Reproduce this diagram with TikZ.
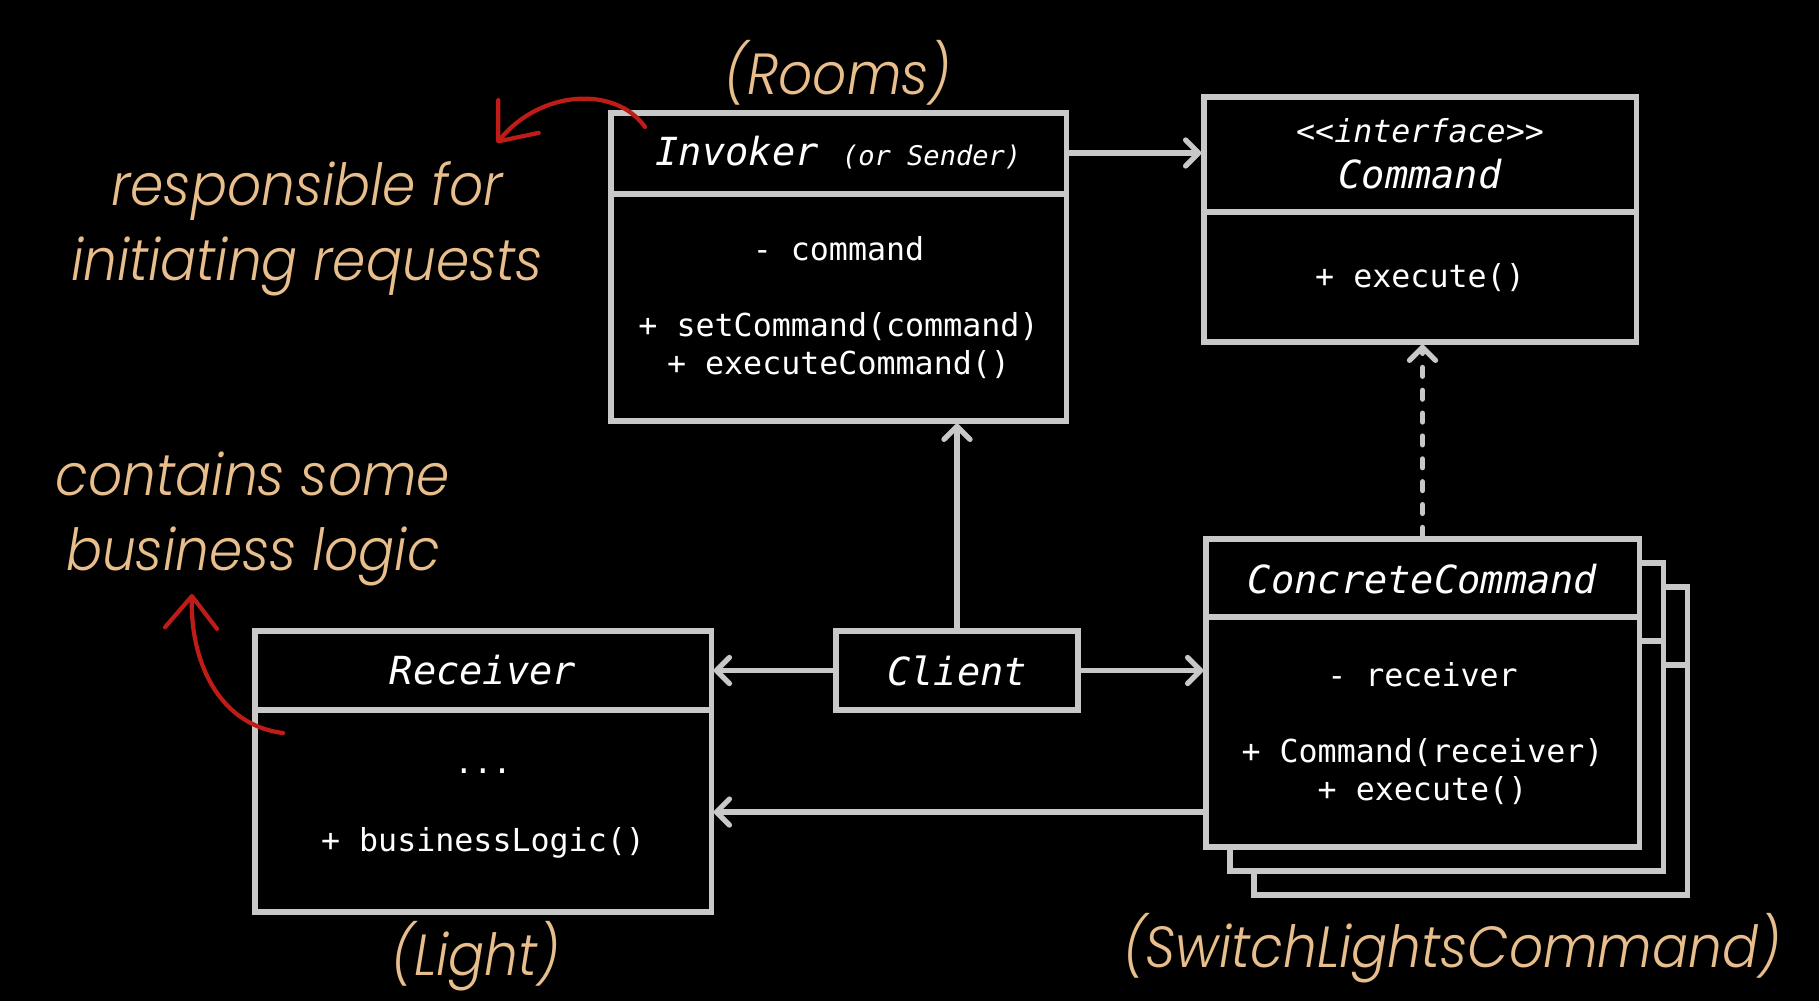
\documentclass[tikz,border=0pt]{standalone}
\usepackage{fontspec}
\setmonofont{DejaVu Sans Mono}
\newfontfamily\notefont{Poppins Light Italic}[FakeStretch=0.92]
\usetikzlibrary{arrows.meta}
\definecolor{linegray}{RGB}{200,200,200}
\definecolor{notetan}{RGB}{232,190,140}
\definecolor{markred}{RGB}{190,28,22}
\tikzset{
  classbox/.style={
    draw=linegray,
    line width=1.5pt,
    fill=black,
    inner sep=0pt
  },
  divider/.style={draw=linegray, line width=1.5pt},
  classtitle/.style={text=white, font=\ttfamily\itshape\fontsize{11}{13}\selectfont},
  classtext/.style={text=white, align=center, font=\ttfamily\fontsize{9}{10.8}\selectfont},
  notetext/.style={text=notetan, align=center, font=\notefont\fontsize{16.5}{21.3}\selectfont},
  umlarrow/.style={draw=linegray, line width=1.5pt, -{Straight Barb[length=1.3mm,width=2.6mm,round]}},
  realizearrow/.style={umlarrow, dash pattern=on 2.5pt off 4pt, line cap=round},
  remarkarrow/.style={draw=markred, line width=1.2pt, line cap=round, -{Straight Barb[length=3.2mm,width=5.2mm,round]}}
}

\begin{document}
\begin{tikzpicture}[x=0.01cm, y=-0.01cm]
\fill[black] (0,0) rectangle (1819,1001);
\useasboundingbox (0,0) rectangle (1819,1001);

% invoker
\node[classbox, minimum width=4.55cm, minimum height=3.08cm] (inv) at (838.5,267) {};
\draw[divider] (inv.west |- 0,194) -- (inv.east |- 0,194);
\node[classtitle] (invtitle) at (838.5,153) {Invoker {\fontsize{7.7}{9}\selectfont(or Sender)}};
\node[classtext] (invattr) at (838.5,249) {- command};
\node[classtext] (invops) at (838.5,346) {+ setCommand(command)\\+ executeCommand()};

% command interface
\node[classbox, minimum width=4.32cm, minimum height=2.45cm] (cmd) at (1420,219.5) {};
\draw[divider] (cmd.west |- 0,212) -- (cmd.east |- 0,212);
\node[classtext, font=\ttfamily\itshape\fontsize{9}{11}\selectfont] (cmdstereo) at (1420,131) {<<interface>>};
\node[classtitle] (cmdtitle) at (1420,174) {Command};
\node[classtext] (cmdops) at (1420,278) {+ execute()};

% concrete commands (stacked)
\foreach \off/\nm in {48/cc3, 24/cc2} {
  \node[classbox, minimum width=4.33cm, minimum height=3.08cm] (\nm) at (1422.5+\off,693+\off) {};
  \draw[divider] (\nm.west |- 0,617+\off) -- (\nm.east |- 0,617+\off);
}
\node[classbox, minimum width=4.33cm, minimum height=3.08cm] (cc) at (1422.5,693) {};
\draw[divider] (cc.west |- 0,617) -- (cc.east |- 0,617);
\node[classtitle] (cctitle) at (1422.5,579) {ConcreteCommand};
\node[classtext] (ccattr) at (1422.5,675) {- receiver};
\node[classtext] (ccops) at (1422.5,772) {+ Command(receiver)\\+ execute()};

% receiver
\node[classbox, minimum width=4.56cm, minimum height=2.81cm] (recv) at (483,771.5) {};
\draw[divider] (recv.west |- 0,710) -- (recv.east |- 0,710);
\node[classtitle] (recvtitle) at (483,670) {Receiver};
\node[classtext] (recvattr) at (483,771) {...};
\node[classtext] (recvops) at (483,843) {+ businessLogic()};

% client
\node[classbox, classtitle, minimum width=2.42cm, minimum height=0.79cm] (client) at (957,670.5) {Client};

% relations
\draw[umlarrow] (inv.east |- invtitle) -- (cmd.west |- invtitle);
\draw[umlarrow] (client.north) -- (client.north |- inv.south);
\draw[umlarrow] (client.west) -- (client.west -| recv.east);
\draw[umlarrow] (client.east) -- (client.east -| cc.west);
\coordinate (ccback) at ([yshift=-1.19cm]cc.west);
\draw[umlarrow] (ccback) -- (ccback -| recv.east);
\draw[realizearrow] (cc.north) -- (cc.north |- cmd.south);

% notes
\node[notetext] (rooms) at (838,73) {(Rooms)};
\node[notetext] (invnote) at (307,229) {responsible for\\initiating requests};
\node[notetext] (recvnote) at (253,519) {contains some\\business logic};
\node[notetext] (light) at (476,956) {(Light)};
\node[notetext] (cclabel) at (1452,948) {(SwitchLightsCommand)};

\coordinate (invmark) at (645,127);
\coordinate (invtip) at (497,143);
\draw[remarkarrow] (invmark) .. controls (615,85) and (540,90) .. (invtip);
\coordinate (recvmark) at (283,733);
\coordinate (recvtip) at (192,594);
\draw[remarkarrow] (recvmark) .. controls (218,725) and (190,660) .. (recvtip);
\end{tikzpicture}
\end{document}
